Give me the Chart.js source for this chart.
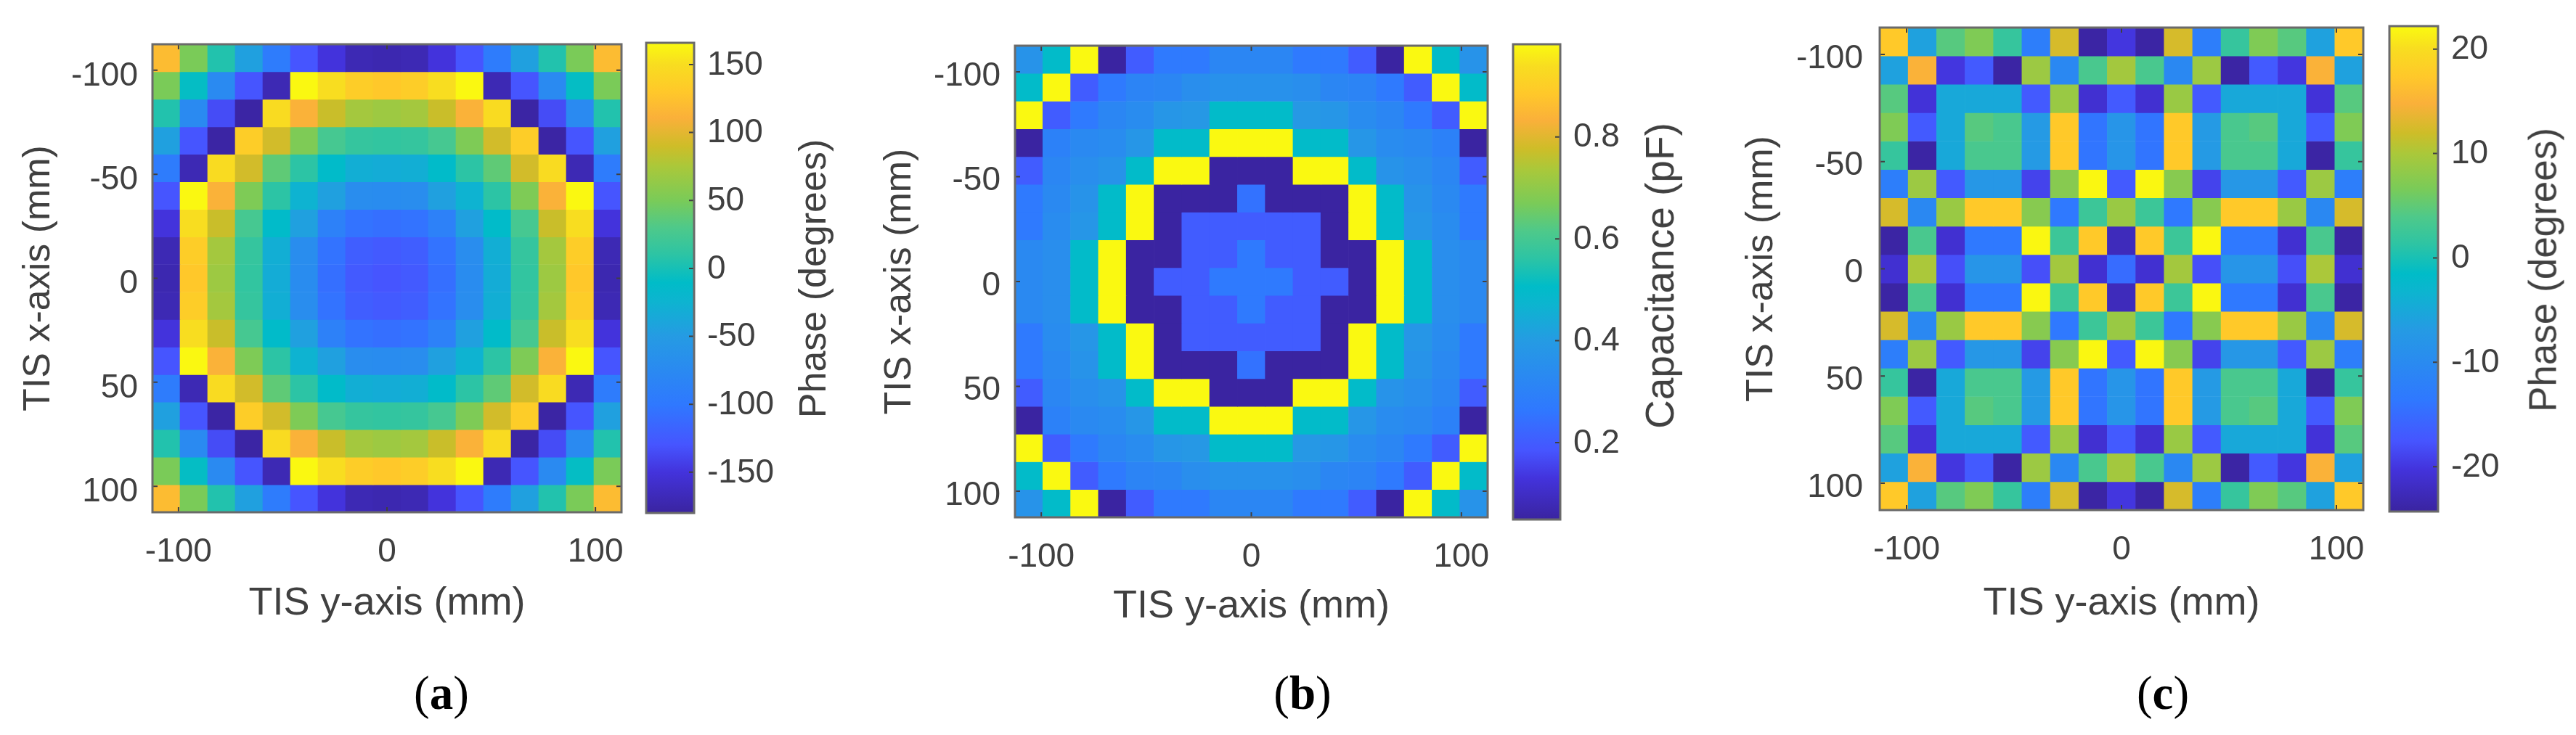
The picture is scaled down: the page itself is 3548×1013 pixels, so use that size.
<!DOCTYPE html>
<html>
<head>
<meta charset="utf-8">
<title>TIS phase and capacitance maps</title>
<script src="https://cdn.jsdelivr.net/npm/chart.js@4"></script>
<style>
  html, body { margin: 0; padding: 0; background: #fff; width: 3548px; height: 1013px; overflow: hidden; }
  canvas { position: absolute; }
  .cbar-label, .caption { position: absolute; white-space: nowrap; transform: translate(-50%, -50%); }
  .cbar-label { font-family: "Liberation Sans", sans-serif; color: #404040; transform: translate(-50%, -50%) rotate(-90deg); }
  .caption { font-family: "Liberation Serif", serif; font-size: 65px; color: #000; top: 955px; }
  .caption b { font-weight: bold; }
</style>
</head>
<body>
<script>
// cell centres along both TIS axes (mm)
const cellCenters = [-105.88, -92.65, -79.41, -66.18, -52.94, -39.71, -26.47, -13.24, 0, 13.24, 26.47, 39.71, 52.94, 66.18, 79.41, 92.65, 105.88];
const axisTicks = [-100, 0, 100];
const rowTicks = [-100, -50, 0, 50, 100];

const phaseTicksA = [-150, -100, -50, 0, 50, 100, 150];
const capacitanceTicks = [0.2, 0.4, 0.6, 0.8];
const phaseTicksC = [-20, -10, 0, 10, 20];

// (a) phase, degrees
const phaseA = [
  [120, 50, 5, -45, -95, -130, -150, -170, -172, -170, -150, -130, -95, -45, 5, 50, 120],
  [50, -8, -75, -130, -170, 165, 150, 135, 130, 135, 150, 165, -170, -130, -75, -8, 50],
  [5, -75, -135, -178, 148, 112, 88, 72, 68, 72, 88, 112, 148, -178, -135, -75, 5],
  [-45, -130, -178, 135, 92, 52, 25, 15, 13, 15, 25, 52, 92, 135, -178, -130, -45],
  [-95, -170, 148, 92, 38, 10, -12, -30, -32, -30, -12, 10, 38, 92, 148, -170, -95],
  [-130, 165, 112, 52, 10, -25, -45, -70, -72, -70, -45, -25, 10, 52, 112, 165, -130],
  [-150, 150, 88, 25, -12, -45, -88, -105, -108, -105, -88, -45, -12, 25, 88, 150, -150],
  [-170, 135, 72, 15, -30, -70, -105, -122, -126, -122, -105, -70, -30, 15, 72, 135, -170],
  [-172, 130, 68, 13, -32, -72, -108, -126, -130, -126, -108, -72, -32, 13, 68, 130, -172],
  [-170, 135, 72, 15, -30, -70, -105, -122, -126, -122, -105, -70, -30, 15, 72, 135, -170],
  [-150, 150, 88, 25, -12, -45, -88, -105, -108, -105, -88, -45, -12, 25, 88, 150, -150],
  [-130, 165, 112, 52, 10, -25, -45, -70, -72, -70, -45, -25, 10, 52, 112, 165, -130],
  [-95, -170, 148, 92, 38, 10, -12, -30, -32, -30, -12, 10, 38, 92, 148, -170, -95],
  [-45, -130, -178, 135, 92, 52, 25, 15, 13, 15, 25, 52, 92, 135, -178, -130, -45],
  [5, -75, -135, -178, 148, 112, 88, 72, 68, 72, 88, 112, 148, -178, -135, -75, 5],
  [50, -8, -75, -130, -170, 165, 150, 135, 130, 135, 150, 165, -170, -130, -75, -8, 50],
  [120, 50, 5, -45, -95, -130, -150, -170, -172, -170, -150, -130, -95, -45, 5, 50, 120]
];

// (b) capacitance, pF
const capacitanceB = [
  [.37, .50, .98, .05, .20, .27, .27, .32, .32, .32, .27, .27, .20, .05, .98, .50, .37],
  [.50, .98, .20, .27, .31, .32, .35, .36, .36, .36, .35, .32, .31, .27, .20, .98, .50],
  [.98, .20, .27, .32, .34, .38, .39, .50, .50, .50, .39, .38, .34, .32, .27, .20, .98],
  [.05, .30, .33, .34, .38, .50, .50, .98, .98, .98, .50, .50, .38, .34, .33, .30, .05],
  [.20, .32, .35, .37, .50, .98, .98, .05, .05, .05, .98, .98, .50, .37, .35, .32, .20],
  [.27, .33, .37, .50, .98, .05, .05, .05, .25, .05, .05, .05, .98, .50, .37, .33, .27],
  [.27, .34, .38, .50, .98, .05, .20, .20, .20, .20, .20, .05, .98, .50, .38, .34, .27],
  [.33, .35, .50, .98, .05, .05, .20, .20, .27, .20, .20, .05, .05, .98, .50, .35, .33],
  [.33, .35, .50, .98, .05, .20, .20, .27, .27, .27, .20, .20, .05, .98, .50, .35, .33],
  [.33, .35, .50, .98, .05, .05, .20, .20, .27, .20, .20, .05, .05, .98, .50, .35, .33],
  [.27, .34, .38, .50, .98, .05, .20, .20, .20, .20, .20, .05, .98, .50, .38, .34, .27],
  [.27, .33, .37, .50, .98, .05, .05, .05, .25, .05, .05, .05, .98, .50, .37, .33, .27],
  [.20, .32, .35, .37, .50, .98, .98, .05, .05, .05, .98, .98, .50, .37, .35, .32, .20],
  [.05, .30, .33, .34, .38, .50, .50, .98, .98, .98, .50, .50, .38, .34, .33, .30, .05],
  [.98, .20, .27, .32, .34, .38, .39, .50, .50, .50, .39, .38, .34, .32, .27, .20, .98],
  [.50, .98, .20, .27, .31, .32, .35, .36, .36, .36, .35, .32, .31, .27, .20, .98, .50],
  [.37, .50, .98, .05, .20, .27, .27, .32, .32, .32, .27, .27, .20, .05, .98, .50, .37]
];

// (c) phase, degrees
const phaseC = [
  [17.5, -6, 4.5, 7, 2, -12.5, 12.5, -24, -20, -24, 12.5, -12.5, 2, 7, 4.5, -6, 17.5],
  [-6, 15, -20, -17, -24, 9, -10.5, 3.5, 9.5, 3.5, -10.5, 9, -24, -17, -20, 15, -6],
  [4.5, -20.5, -5, -5, -5, -17, 8.8, -21, -17, -21, 8.8, -17, -5, -5, -5, -20.5, 4.5],
  [7, -17, -5, 4.5, 3.5, -7, 17.5, -14, -8, -14, 17.5, -7, 3.5, 4.5, -5, -17, 7],
  [2, -24, -5, 3.5, 3.5, -7, 17.5, -14, -8, -14, 17.5, -7, 3.5, 3.5, -5, -24, 2],
  [-12.5, 9, -17, -7.5, -7.5, -19, 7.5, 22, -17, 22, 7.5, -19, -7.5, -7.5, -17, 9, -12.5],
  [12.5, -10.5, 8.8, 17.5, 17.5, 7.5, -13.5, 2.5, 8.8, 2.5, -13.5, 7.5, 17.5, 17.5, 8.8, -10.5, 12.5],
  [-24, 3.5, -21, -13.5, -13.5, 22, 2.5, 17.5, -22.5, 17.5, 2.5, 22, -13.5, -13.5, -21, 3.5, -24],
  [-21, 10, -18, -8, -8, -18, 9.5, -21, -15, -21, 9.5, -18, -8, -8, -18, 10, -21],
  [-24, 3.5, -21, -13.5, -13.5, 22, 2.5, 17.5, -22.5, 17.5, 2.5, 22, -13.5, -13.5, -21, 3.5, -24],
  [12.5, -10.5, 8.8, 17.5, 17.5, 7.5, -13.5, 2.5, 8.8, 2.5, -13.5, 7.5, 17.5, 17.5, 8.8, -10.5, 12.5],
  [-12.5, 9, -17, -7.5, -7.5, -19, 7.5, 22, -17, 22, 7.5, -19, -7.5, -7.5, -17, 9, -12.5],
  [2, -24, -5, 3.5, 3.5, -7, 17.5, -14, -8, -14, 17.5, -7, 3.5, 3.5, -5, -24, 2],
  [7, -17, -5, 4.5, 3.5, -7, 17.5, -14, -8, -14, 17.5, -7, 3.5, 4.5, -5, -17, 7],
  [4.5, -20.5, -5, -5, -5, -17, 8.8, -21, -17, -21, 8.8, -17, -5, -5, -5, -20.5, 4.5],
  [-6, 15, -20, -17, -24, 9, -10.5, 3.5, 9.5, 3.5, -10.5, 9, -24, -17, -20, 15, -6],
  [17.5, -6, 4.5, 7, 2, -12.5, 12.5, -24, -20, -24, 12.5, -12.5, 2, 7, 4.5, -6, 17.5]
];

// parula as it shows up in the picture
const colormapStops = [0, .087, .145, .23, .376, .45, .49, .55, .607, .665, .737, .78, .84, .896, .954, 1];
const colormapColors = [
  [58, 36, 160], [67, 51, 220], [70, 85, 255], [47, 120, 255], [37, 155, 227], [13, 180, 208],
  [0, 188, 200], [45, 196, 164], [78, 201, 138], [122, 203, 88], [170, 200, 58], [206, 189, 40],
  [250, 176, 58], [255, 200, 42], [248, 221, 32], [250, 250, 16]
];

const fontSans = '"Liberation Sans", Arial, sans-serif';
const textColor = '#404040';
const frameColor = '#6a6a6a';
const axisLimit = 112.5;
const halfCell = 6.62;

const colorAt = (t) => {
  const p = Math.min(1, Math.max(0, t));
  let i = 0;
  while (i < colormapStops.length - 2 && p > colormapStops[i + 1]) i++;
  const f = (p - colormapStops[i]) / (colormapStops[i + 1] - colormapStops[i]);
  const rgb = colormapColors[i].map((c, k) => Math.round(c + (colormapColors[i + 1][k] - c) * f));
  return `rgb(${rgb.join(',')})`;
};

// keeps tick label overhang from pushing the plot box inward
const zeroPadding = (s) => {
  s.paddingTop = s.paddingBottom = s.paddingLeft = s.paddingRight = 0;
};

// MATLAB style box with the tick marks pointing inward
const insideTicks = {
  id: 'insideTicks',
  afterDatasetsDraw(chart) {
    const { ctx, chartArea: a, scales } = chart;
    const len = 7;
    ctx.save();
    ctx.strokeStyle = textColor;
    ctx.lineWidth = 2;
    ctx.beginPath();
    if (scales.x.options.display) {
      scales.x.ticks.forEach((t) => {
        const px = scales.x.getPixelForValue(t.value);
        ctx.moveTo(px, a.bottom); ctx.lineTo(px, a.bottom - len);
        ctx.moveTo(px, a.top); ctx.lineTo(px, a.top + len);
      });
    }
    scales.y.ticks.forEach((t) => {
      const py = scales.y.getPixelForValue(t.value);
      ctx.moveTo(a.right, py); ctx.lineTo(a.right - len, py);
      if (scales.x.options.display) {
        ctx.moveTo(a.left, py); ctx.lineTo(a.left + len, py);
      }
    });
    ctx.stroke();
    ctx.strokeStyle = frameColor;
    ctx.lineWidth = 3;
    ctx.strokeRect(a.left, a.top, a.right - a.left, a.bottom - a.top);
    ctx.restore();
  }
};

const addCanvas = (left, top, width, height) => {
  const canvas = document.createElement('canvas');
  canvas.width = width;
  canvas.height = height;
  canvas.style.left = left + 'px';
  canvas.style.top = top + 'px';
  document.body.appendChild(canvas);
  return canvas;
};

const drawHeatmap = (grid, range, box) => {
  const marginLeft = box.left - (box.titleX - 27);
  const marginBottom = box.titleY - box.bottom + 27;
  const padTop = 6, padRight = 30;
  const canvas = addCanvas(box.left - marginLeft, box.top - padTop,
    box.right - box.left + marginLeft + padRight, box.bottom - box.top + marginBottom + padTop);

  const datasets = grid.map((row, r) => ({
    data: row.map((_, c) => ({ x: cellCenters[c], y: [cellCenters[r] - halfCell, cellCenters[r] + halfCell] })),
    backgroundColor: row.map((v) => colorAt((v - range[0]) / (range[1] - range[0]))),
    borderWidth: 0,
    categoryPercentage: 1,
    barPercentage: 1,
    stack: 'grid'
  }));

  new Chart(canvas, {
    type: 'bar',
    data: { datasets },
    options: {
      responsive: false,
      animation: false,
      layout: { autoPadding: false, padding: { top: padTop, right: padRight, left: 0, bottom: 0 } },
      plugins: { legend: { display: false }, tooltip: { enabled: false } },
      scales: {
        x: {
          type: 'linear',
          stacked: true,
          offset: false,
          min: -axisLimit,
          max: axisLimit,
          grid: { display: false, drawTicks: false },
          border: { display: false },
          afterBuildTicks: (s) => { s.ticks = axisTicks.map((value) => ({ value })); },
          afterFit: (s) => { s.height = marginBottom; zeroPadding(s); },
          ticks: { padding: box.xPad, maxRotation: 0, color: textColor, font: { family: fontSans, size: 46 } },
          title: { display: true, text: 'TIS y-axis (mm)', color: textColor, padding: 0, font: { family: fontSans, size: 54, lineHeight: 1 } }
        },
        y: {
          type: 'linear',
          reverse: true,
          stacked: false,
          min: -axisLimit,
          max: axisLimit,
          grid: { display: false, drawTicks: false },
          border: { display: false },
          afterBuildTicks: (s) => { s.ticks = rowTicks.map((value) => ({ value })); },
          afterFit: (s) => { s.width = marginLeft; zeroPadding(s); },
          ticks: { padding: box.yPad, labelOffset: box.yLabelShift, color: textColor, font: { family: fontSans, size: 46 } },
          title: { display: true, text: 'TIS x-axis (mm)', color: textColor, padding: 0, font: { family: fontSans, size: 52, lineHeight: 1 } }
        }
      }
    },
    plugins: [insideTicks]
  });
};

const drawColorbar = (ticks, range, box, label) => {
  const pad = 4;
  const labelRoom = 120;
  const canvas = addCanvas(box.left - pad, box.top - pad, box.right - box.left + pad + labelRoom, box.bottom - box.top + 2 * pad);

  new Chart(canvas, {
    type: 'bar',
    data: {
      labels: [''],
      datasets: [{
        data: [range],
        borderWidth: 0,
        categoryPercentage: 1,
        barPercentage: 1,
        backgroundColor: (ctx) => {
          const area = ctx.chart.chartArea;
          if (!area) return colorAt(0);
          const gradient = ctx.chart.ctx.createLinearGradient(0, area.bottom, 0, area.top);
          colormapStops.forEach((stop) => gradient.addColorStop(stop, colorAt(stop)));
          return gradient;
        }
      }]
    },
    options: {
      responsive: false,
      animation: false,
      layout: { autoPadding: false, padding: { top: pad, bottom: pad, left: pad, right: 0 } },
      plugins: { legend: { display: false }, tooltip: { enabled: false } },
      scales: {
        x: { display: false },
        y: {
          position: 'right',
          min: range[0],
          max: range[1],
          grid: { display: false, drawTicks: false },
          border: { display: false },
          afterBuildTicks: (s) => { s.ticks = ticks.map((value) => ({ value })); },
          afterFit: (s) => { s.width = labelRoom; zeroPadding(s); },
          ticks: {
            padding: 18,
            labelOffset: 1,
            color: textColor,
            font: { family: fontSans, size: 46 },
            callback: (v) => (Number.isInteger(v) ? String(v) : v.toFixed(1))
          }
        }
      }
    },
    plugins: [insideTicks]
  });

  const el = document.createElement('div');
  el.className = 'cbar-label';
  el.textContent = label.text;
  el.style.left = label.x + 'px';
  el.style.top = label.y + 'px';
  el.style.fontSize = label.size + 'px';
  document.body.appendChild(el);
};

const addCaption = (letter, x) => {
  const el = document.createElement('div');
  el.className = 'caption';
  el.style.left = x + 'px';
  el.innerHTML = `(<b>${letter}</b>)`;
  document.body.appendChild(el);
};

const rangeA = [-180, 166];
const rangeB = [0.049, 0.982];
const rangeC = [-24.3, 22.2];

drawHeatmap(phaseA, rangeA, { left: 210, top: 61, right: 856, bottom: 706, titleX: 55, titleY: 832, xPad: 28, yPad: 20, yLabelShift: 8 });
drawColorbar(phaseTicksA, rangeA, { left: 890, top: 59, right: 956, bottom: 707 }, { text: 'Phase (degrees)', x: 1119, y: 384, size: 52 });
addCaption('a', 608);

drawHeatmap(capacitanceB, rangeB, { left: 1398, top: 63, right: 2049, bottom: 713, titleX: 1241, titleY: 836, xPad: 28, yPad: 20, yLabelShift: 6 });
drawColorbar(capacitanceTicks, rangeB, { left: 2084, top: 61, right: 2149, bottom: 716 }, { text: 'Capacitance (pF)', x: 2286, y: 380, size: 55 });
addCaption('b', 1794);

drawHeatmap(phaseC, rangeC, { left: 2589, top: 38, right: 3255, bottom: 703, titleX: 2428, titleY: 832, xPad: 28, yPad: 23, yLabelShift: 6 });
drawColorbar(phaseTicksC, rangeC, { left: 3291, top: 36, right: 3358, bottom: 705 }, { text: 'Phase (degrees)', x: 3502, y: 372, size: 53 });
addCaption('c', 2979);
</script>
</body>
</html>
